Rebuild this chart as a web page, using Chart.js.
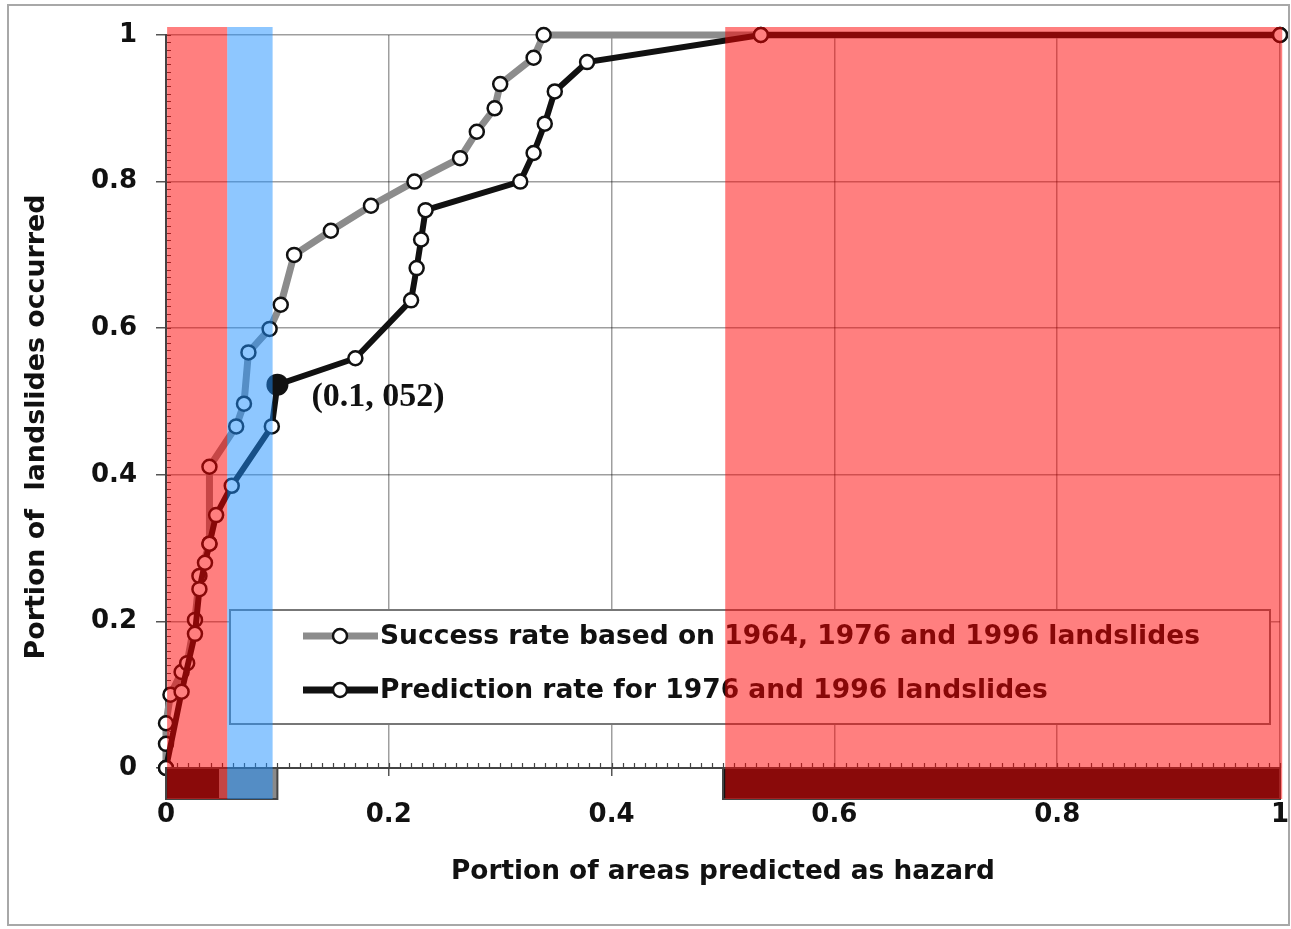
<!DOCTYPE html>
<html>
<head>
<meta charset="utf-8">
<script src="https://cdn.jsdelivr.net/npm/chart.js@4/dist/chart.umd.min.js"></script>
<style>
html,body{margin:0;padding:0;background:#fff;}
canvas{display:block;}
</style>
</head>
<body>
<canvas id="c" width="1291" height="929"></canvas>
<script>
// ---------- data ----------
const successX = [0, 0, 0, 0.004, 0.014, 0.019, 0.026, 0.030, 0.039, 0.039, 0.063, 0.070, 0.074, 0.093, 0.103, 0.115, 0.148, 0.184, 0.223, 0.264, 0.279, 0.295, 0.300, 0.330, 0.339, 0.534, 1.0];
const successY = [0, 0.033, 0.061, 0.100, 0.131, 0.143, 0.202, 0.262, 0.306, 0.411, 0.466, 0.497, 0.567, 0.599, 0.632, 0.700, 0.733, 0.767, 0.800, 0.832, 0.868, 0.900, 0.933, 0.969, 1.0, 1.0, 1.0];

const predictionX = [0, 0.014, 0.026, 0.030, 0.035, 0.039, 0.045, 0.059, 0.095, 0.100, 0.170, 0.220, 0.225, 0.229, 0.233, 0.318, 0.330, 0.340, 0.349, 0.378, 0.534, 1.0];
const predictionY = [0, 0.104, 0.183, 0.244, 0.280, 0.306, 0.345, 0.385, 0.466, 0.523, 0.559, 0.638, 0.682, 0.721, 0.761, 0.800, 0.839, 0.879, 0.923, 0.963, 1.0, 1.0];

const seriesNames = ["Success rate based on 1964, 1976 and 1996 landslides", "Prediction rate for 1976 and 1996 landslides"];
const xTicks = [0, 0.2, 0.4, 0.6, 0.8, 1];
const yTicks = [0, 0.2, 0.4, 0.6, 0.8, 1];
const xTitle = "Portion of areas predicted as hazard";
const yTitle = "Portion of  landslides occurred";

const markedPointX = [0.1];
const markedPointY = [0.523];
const markedLabel = "(0.1, 052)";

// highlighted x-ranges (data units)
const redBands = [[0.001, 0.055], [0.502, 1.002]];
const blueBands = [[0.055, 0.0957]];
const darkStrips = [[0, 0.048], [0.5, 1.0]];
const greyStrips = [[0.048, 0.1]];
const stripFrames = [[0, 0.1], [0.5, 1.0]];

// ---------- style ----------
const FONT = '"DejaVu Sans", "Liberation Sans", Arial, sans-serif';
const GREY = '#8c8c8c';
const BLACK = '#111111';

function fmt(v) { return (v === 0 || v === 1) ? String(v) : v.toFixed(1); }

// size a bold font so that a text spans a given width
const measureCtx = document.createElement('canvas').getContext('2d');
function fitSize(text, targetW, base) {
  measureCtx.font = 'bold ' + base + 'px ' + FONT;
  return base * targetW / measureCtx.measureText(text).width;
}
const xTitleSize = fitSize(xTitle, 544, 26);
const yTitleSize = fitSize(yTitle, 465, 26);
const legendSize = fitSize(seriesNames[0], 820, 26);

const decoPlugin = {
  id: 'deco',
  beforeDatasetsDraw(chart) {
    const {ctx, chartArea: ca, scales: {x, y}} = chart;
    ctx.save();
    ctx.strokeStyle = '#444';
    ctx.lineWidth = 1.2;
    ctx.beginPath();
    for (let i = 0; i <= 100; i++) {
      const px = Math.round(x.getPixelForValue(i / 100)) + 0.5;
      ctx.moveTo(px, ca.bottom);
      ctx.lineTo(px, ca.bottom - 5);
      const py = Math.round(y.getPixelForValue(i / 100)) + 0.5;
      ctx.moveTo(ca.left, py);
      ctx.lineTo(ca.left + 5, py);
    }
    ctx.stroke();
    ctx.restore();
  },
  afterDraw(chart) {
    const {ctx, chartArea: ca, scales: {x, y}} = chart;
    ctx.save();
    // outer frame
    ctx.strokeStyle = '#a8a8a8';
    ctx.lineWidth = 2;
    ctx.strokeRect(8, 5, 1281, 920);

    // y title
    ctx.save();
    ctx.translate(37, 427);
    ctx.rotate(-Math.PI / 2);
    ctx.font = 'bold ' + yTitleSize.toFixed(2) + 'px ' + FONT;
    ctx.fillStyle = '#111';
    ctx.textAlign = 'center';
    ctx.textBaseline = 'middle';
    ctx.fillText(yTitle, 0, 0);
    ctx.restore();

    // legend box
    const lx = ca.left + 64, ly = ca.top + 575, lw = 1040, lh = 114;
    ctx.fillStyle = '#fff';
    ctx.fillRect(lx, ly, lw, lh);
    ctx.strokeStyle = '#777';
    ctx.lineWidth = 2;
    ctx.strokeRect(lx, ly, lw, lh);
    const items = [
      {name: seriesNames[0], color: GREY, yy: ly + 26},
      {name: seriesNames[1], color: BLACK, yy: ly + 80}
    ];
    ctx.font = 'bold ' + legendSize.toFixed(2) + 'px ' + FONT;
    ctx.textBaseline = 'middle';
    ctx.textAlign = 'left';
    for (const it of items) {
      ctx.strokeStyle = it.color;
      ctx.lineWidth = 7;
      ctx.beginPath();
      ctx.moveTo(lx + 73, it.yy);
      ctx.lineTo(lx + 148, it.yy);
      ctx.stroke();
      ctx.beginPath();
      ctx.arc(lx + 110, it.yy, 7, 0, Math.PI * 2);
      ctx.fillStyle = '#fff';
      ctx.fill();
      ctx.lineWidth = 2.5;
      ctx.strokeStyle = BLACK;
      ctx.stroke();
      ctx.fillStyle = '#111';
      ctx.fillText(it.name, lx + 150, it.yy + 1);
    }

    // marked point label
    const mx = x.getPixelForValue(markedPointX[0]);
    const my = y.getPixelForValue(markedPointY[0]);
    ctx.font = 'bold 34px "Liberation Serif", "Times New Roman", serif';
    ctx.fillStyle = '#111';
    ctx.textAlign = 'left';
    ctx.textBaseline = 'middle';
    ctx.fillText(markedLabel, mx + 34, my + 13);

    // strips under axis
    const sTop = ca.bottom, sH = 31;
    ctx.fillStyle = '#141414';
    for (const [a, b] of darkStrips) {
      const pa = x.getPixelForValue(a), pb = x.getPixelForValue(b);
      ctx.fillRect(pa, sTop, pb - pa, sH);
    }
    ctx.fillStyle = '#8a8a8a';
    for (const [a, b] of greyStrips) {
      const pa = x.getPixelForValue(a), pb = x.getPixelForValue(b);
      ctx.fillRect(pa, sTop, pb - pa, sH);
    }
    ctx.strokeStyle = '#444';
    ctx.lineWidth = 2;
    for (const [a, b] of stripFrames) {
      const pa = x.getPixelForValue(a), pb = x.getPixelForValue(b);
      ctx.strokeRect(pa, sTop, pb - pa, sH);
    }

    // translucent highlight bands
    const bTop = ca.top - 8, bBot = ca.bottom + 31;
    ctx.fillStyle = 'rgba(255,0,0,0.5)';
    for (const [a, b] of redBands) {
      const pa = x.getPixelForValue(a), pb = x.getPixelForValue(b);
      ctx.fillRect(pa, bTop, pb - pa, bBot - bTop);
    }
    ctx.fillStyle = 'rgba(30,144,255,0.5)';
    for (const [a, b] of blueBands) {
      const pa = x.getPixelForValue(a), pb = x.getPixelForValue(b);
      ctx.fillRect(pa, bTop, pb - pa, bBot - bTop);
    }
    ctx.restore();
  }
};

const tickFont = {family: FONT, size: 26, weight: 'bold'};

new Chart(document.getElementById('c'), {
  type: 'scatter',
  data: {
    datasets: [
      {
        label: seriesNames[0],
        data: successX.map((v, i) => ({x: v, y: successY[i]})),
        showLine: true,
        borderColor: GREY,
        borderWidth: 7,
        pointRadius: 7,
        pointBorderWidth: 2.5,
        pointBorderColor: BLACK,
        pointBackgroundColor: '#fff',
        tension: 0,
        order: 3
      },
      {
        label: seriesNames[1],
        data: predictionX.map((v, i) => ({x: v, y: predictionY[i]})),
        showLine: true,
        borderColor: BLACK,
        borderWidth: 6,
        pointRadius: 7,
        pointBorderWidth: 2.5,
        pointBorderColor: BLACK,
        pointBackgroundColor: '#fff',
        tension: 0,
        order: 2
      },
      {
        label: markedLabel,
        data: markedPointX.map((v, i) => ({x: v, y: markedPointY[i]})),
        showLine: false,
        pointRadius: 11,
        pointBorderWidth: 0,
        pointBackgroundColor: BLACK,
        order: 1
      }
    ]
  },
  options: {
    responsive: false,
    animation: false,
    devicePixelRatio: 1,
    layout: {padding: {top: 35, right: 10, left: 0, bottom: 0}},
    plugins: {legend: {display: false}, tooltip: {enabled: false}},
    clip: false,
    scales: {
      x: {
        type: 'linear', min: 0, max: 1,
        afterBuildTicks: s => { s.ticks = xTicks.map(v => ({value: v})); },
        afterFit: s => { s.height = 161; s.paddingLeft = 0; s.paddingRight = 0; },
        ticks: {font: tickFont, color: '#111', padding: 24, maxRotation: 0, autoSkip: false, callback: v => fmt(v)},
        grid: {color: 'rgba(0,0,0,0.38)', lineWidth: 1.5, tickLength: 8, tickColor: '#555'},
        border: {color: '#444', width: 2},
        title: {display: true, text: xTitle, font: {family: FONT, size: xTitleSize, weight: 'bold'}, color: '#111', padding: {top: 0, bottom: 41}}
      },
      y: {
        type: 'linear', min: 0, max: 1,
        afterBuildTicks: s => { s.ticks = yTicks.map(v => ({value: v})); },
        afterFit: s => { s.width = 166; s.paddingTop = 0; s.paddingBottom = 0; },
        ticks: {font: tickFont, color: '#111', padding: 19, autoSkip: false, callback: v => fmt(v)},
        grid: {color: 'rgba(0,0,0,0.38)', lineWidth: 1.5, tickLength: 10, tickColor: '#555'},
        border: {color: '#444', width: 2}
      }
    }
  },
  plugins: [decoPlugin]
});
</script>
</body>
</html>
